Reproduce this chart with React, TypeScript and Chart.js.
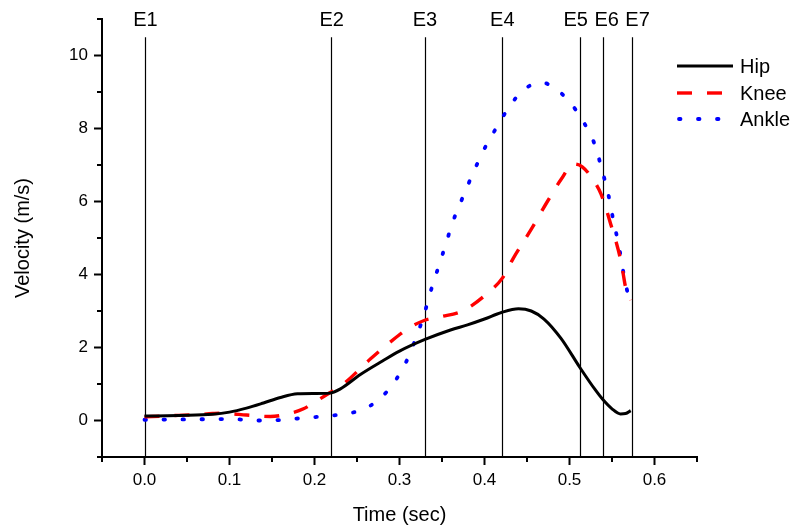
import React, { useEffect, useRef } from 'react';
import { Chart, registerables } from 'chart.js';

Chart.register(...registerables);

// ---- Data ----
const HIP_T = [0, 0.04, 0.08, 0.10, 0.12, 0.14, 0.16, 0.18, 0.20, 0.218, 0.23, 0.254, 0.28, 0.30, 0.33, 0.36, 0.38, 0.40, 0.42, 0.44, 0.455, 0.47, 0.49, 0.512, 0.53, 0.539, 0.55, 0.56, 0.566, 0.572];
const HIP_V = [0.12, 0.14, 0.17, 0.23, 0.34, 0.48, 0.63, 0.73, 0.74, 0.75, 0.86, 1.26, 1.63, 1.9, 2.22, 2.48, 2.62, 2.78, 2.96, 3.06, 3.0, 2.78, 2.25, 1.46, 0.85, 0.58, 0.32, 0.18, 0.19, 0.27];

const KNEE_T = [0, 0.02, 0.04, 0.06, 0.08, 0.09, 0.10, 0.12, 0.148, 0.172, 0.187, 0.20, 0.218, 0.234, 0.266, 0.301, 0.31, 0.329, 0.348, 0.375, 0.407, 0.421, 0.434, 0.454, 0.474, 0.49, 0.505, 0.515, 0.528, 0.537, 0.544, 0.549, 0.555, 0.559, 0.563, 0.566, 0.572];
const KNEE_V = [0.10, 0.12, 0.14, 0.16, 0.19, 0.20, 0.19, 0.15, 0.11, 0.20, 0.32, 0.50, 0.76, 1.0, 1.69, 2.37, 2.52, 2.74, 2.84, 3.01, 3.56, 3.9, 4.45, 5.2, 6.0, 6.6, 7.03, 6.95, 6.59, 6.21, 5.73, 5.34, 4.88, 4.52, 4.04, 3.65, 3.3];

const ANKLE_T = [0, 0.05, 0.10, 0.134, 0.156, 0.178, 0.199, 0.222, 0.244, 0.266, 0.287, 0.302, 0.313, 0.321, 0.329, 0.335, 0.342, 0.349, 0.356, 0.363, 0.372, 0.381, 0.391, 0.402, 0.414, 0.427, 0.445, 0.467, 0.489, 0.508, 0.521, 0.531, 0.537, 0.543, 0.548, 0.552, 0.557, 0.561, 0.565, 0.570, 0.572];
const ANKLE_V = [0.02, 0.03, 0.04, 0.0, 0.01, 0.05, 0.09, 0.14, 0.21, 0.41, 0.84, 1.35, 1.87, 2.37, 2.9, 3.41, 3.93, 4.43, 4.95, 5.46, 5.98, 6.48, 7.01, 7.54, 8.02, 8.52, 9.04, 9.26, 8.99, 8.49, 7.99, 7.48, 6.97, 6.45, 5.94, 5.42, 4.92, 4.39, 3.85, 3.37, 3.25];

const SERIES_NAMES = ['Hip', 'Knee', 'Ankle'];

const EVENT_TIMES = [0, 0.219, 0.33, 0.421, 0.512, 0.539, 0.573];
const EVENT_LABELS = ['E1', 'E2', 'E3', 'E4', 'E5', 'E6', 'E7'];
const EVENT_TOP = 10.5;

const X_TICKS = [-0.05, 0, 0.05, 0.1, 0.15, 0.2, 0.25, 0.3, 0.35, 0.4, 0.45, 0.5, 0.55, 0.6, 0.65];
const X_LABELS = ['', '0.0', '', '0.1', '', '0.2', '', '0.3', '', '0.4', '', '0.5', '', '0.6', ''];
const Y_TICKS = [-1, 0, 1, 2, 3, 4, 5, 6, 7, 8, 9, 10, 11];
const Y_LABELS = ['', '0', '', '2', '', '4', '', '6', '', '8', '', '10', ''];

const X_TITLE = 'Time (sec)';
const Y_TITLE = 'Velocity (m/s)';

// label nudges (px) so crowded event labels do not overlap
const EVENT_LABEL_NUDGE = [1, 1, 0, 0, -4, 4, 6];

const FONT = '"Liberation Sans", Arial, sans-serif';

const toPts = (t: number[], v: number[]) => t.map((x, i) => ({ x, y: v[i] }));

export default function App() {
  const ref = useRef<HTMLCanvasElement>(null);

  useEffect(() => {
    const canvas = ref.current;
    if (!canvas) return;

    const decor = {
      id: 'decor',
      beforeDatasetsDraw(chart: any) {
        const { ctx, scales } = chart;
        const xs = scales.x;
        const ys = scales.y;
        ctx.save();
        ctx.strokeStyle = '#000';
        ctx.lineWidth = 1.2;
        EVENT_TIMES.forEach((t) => {
          const px = Math.round(xs.getPixelForValue(t)) + 0.5;
          ctx.beginPath();
          ctx.moveTo(px, ys.getPixelForValue(EVENT_TOP));
          ctx.lineTo(px, ys.getPixelForValue(-1) - 1);
          ctx.stroke();
        });
        ctx.restore();
      },
      afterDraw(chart: any) {
        const { ctx, scales, chartArea } = chart;
        const xs = scales.x;
        const ys = scales.y;
        ctx.save();
        // minor ticks
        ctx.strokeStyle = '#000';
        ctx.lineWidth = 2;
        X_TICKS.forEach((v, i) => {
          if (X_LABELS[i] !== '') return;
          const px = xs.getPixelForValue(v);
          ctx.beginPath();
          ctx.moveTo(px, chartArea.bottom);
          ctx.lineTo(px, chartArea.bottom + 5);
          ctx.stroke();
        });
        Y_TICKS.forEach((v, i) => {
          if (Y_LABELS[i] !== '') return;
          const py = ys.getPixelForValue(v);
          ctx.beginPath();
          ctx.moveTo(chartArea.left, py);
          ctx.lineTo(chartArea.left - 5, py);
          ctx.stroke();
        });
        // event labels
        ctx.fillStyle = '#000';
        ctx.font = `20px ${FONT}`;
        ctx.textAlign = 'center';
        ctx.textBaseline = 'middle';
        EVENT_TIMES.forEach((t, i) => {
          ctx.fillText(EVENT_LABELS[i], xs.getPixelForValue(t) + EVENT_LABEL_NUDGE[i], 20);
        });
        // axis titles
        ctx.fillText(X_TITLE, (chartArea.left + chartArea.right) / 2, 515);
        ctx.save();
        ctx.translate(23, (chartArea.top + chartArea.bottom) / 2);
        ctx.rotate(-Math.PI / 2);
        ctx.fillText(Y_TITLE, 0, 0);
        ctx.restore();
        // legend
        const legendY = [66, 93, 119];
        chart.data.datasets.forEach((ds: any, i: number) => {
          const y = legendY[i];
          ctx.save();
          ctx.strokeStyle = ds.borderColor;
          ctx.lineWidth = ds.borderWidth;
          ctx.lineCap = ds.borderCapStyle || 'butt';
          ctx.setLineDash(ds.borderDash || []);
          ctx.beginPath();
          ctx.moveTo(i === 2 ? 679 : 677, y);
          ctx.lineTo(733, y);
          ctx.stroke();
          ctx.restore();
          ctx.textAlign = 'left';
          ctx.fillText(ds.label, 740, y + 1);
        });
        ctx.restore();
      },
    };

    const chart = new Chart(canvas, {
      type: 'scatter',
      data: {
        datasets: [
          {
            label: SERIES_NAMES[0],
            data: toPts(HIP_T, HIP_V),
            borderColor: '#000000',
            borderWidth: 3,
            showLine: true,
            pointRadius: 0,
            cubicInterpolationMode: 'monotone',
          },
          {
            label: SERIES_NAMES[1],
            data: toPts(KNEE_T, KNEE_V),
            borderColor: '#ff0000',
            borderWidth: 3.4,
            borderDash: [15, 15],
            showLine: true,
            pointRadius: 0,
            cubicInterpolationMode: 'monotone',
          },
          {
            label: SERIES_NAMES[2],
            data: toPts(ANKLE_T, ANKLE_V),
            borderColor: '#0000ff',
            borderWidth: 3.8,
            borderDash: [1.5, 17.5],
            borderCapStyle: 'round',
            showLine: true,
            pointRadius: 0,
            cubicInterpolationMode: 'monotone',
          },
        ],
      } as any,
      options: {
        responsive: false,
        animation: false,
        devicePixelRatio: 1,
        layout: { padding: { top: 19, right: 99, left: 0, bottom: 0 } },
        plugins: {
          legend: { display: false },
          tooltip: { enabled: false },
        },
        scales: {
          x: {
            type: 'linear',
            min: -0.05,
            max: 0.65,
            afterBuildTicks: (scale: any) => {
              scale.ticks = X_TICKS.map((v) => ({ value: v }));
            },
            afterFit: (scale: any) => {
              scale.height = 72;
            },
            ticks: {
              autoSkip: false,
              maxRotation: 0,
              color: '#000',
              padding: 5,
              font: { family: FONT, size: 17 },
              callback: (_v: any, i: number) => X_LABELS[i],
            },
            grid: {
              drawOnChartArea: false,
              drawTicks: true,
              tickLength: 8,
              tickWidth: 2,
              tickColor: (c: any) => (X_LABELS[c.index] ? '#000' : 'rgba(0,0,0,0)'),
            },
            border: { display: true, color: '#000', width: 2 },
          },
          y: {
            type: 'linear',
            min: -1,
            max: 11,
            afterBuildTicks: (scale: any) => {
              scale.ticks = Y_TICKS.map((v) => ({ value: v }));
            },
            afterFit: (scale: any) => {
              scale.width = 102;
            },
            ticks: {
              autoSkip: false,
              color: '#000',
              padding: 6,
              font: { family: FONT, size: 17 },
              callback: (_v: any, i: number) => Y_LABELS[i],
            },
            grid: {
              drawOnChartArea: false,
              drawTicks: true,
              tickLength: 8,
              tickWidth: 2,
              tickColor: (c: any) => (Y_LABELS[c.index] ? '#000' : 'rgba(0,0,0,0)'),
            },
            border: { display: true, color: '#000', width: 2 },
          },
        },
      } as any,
      plugins: [decor],
    });

    return () => chart.destroy();
  }, []);

  return (
    <div style={{ position: 'fixed', left: 0, top: 0, width: 796, height: 529, background: '#fff' }}>
      <canvas ref={ref} width={796} height={529} style={{ display: 'block', width: 796, height: 529 }} />
    </div>
  );
}
